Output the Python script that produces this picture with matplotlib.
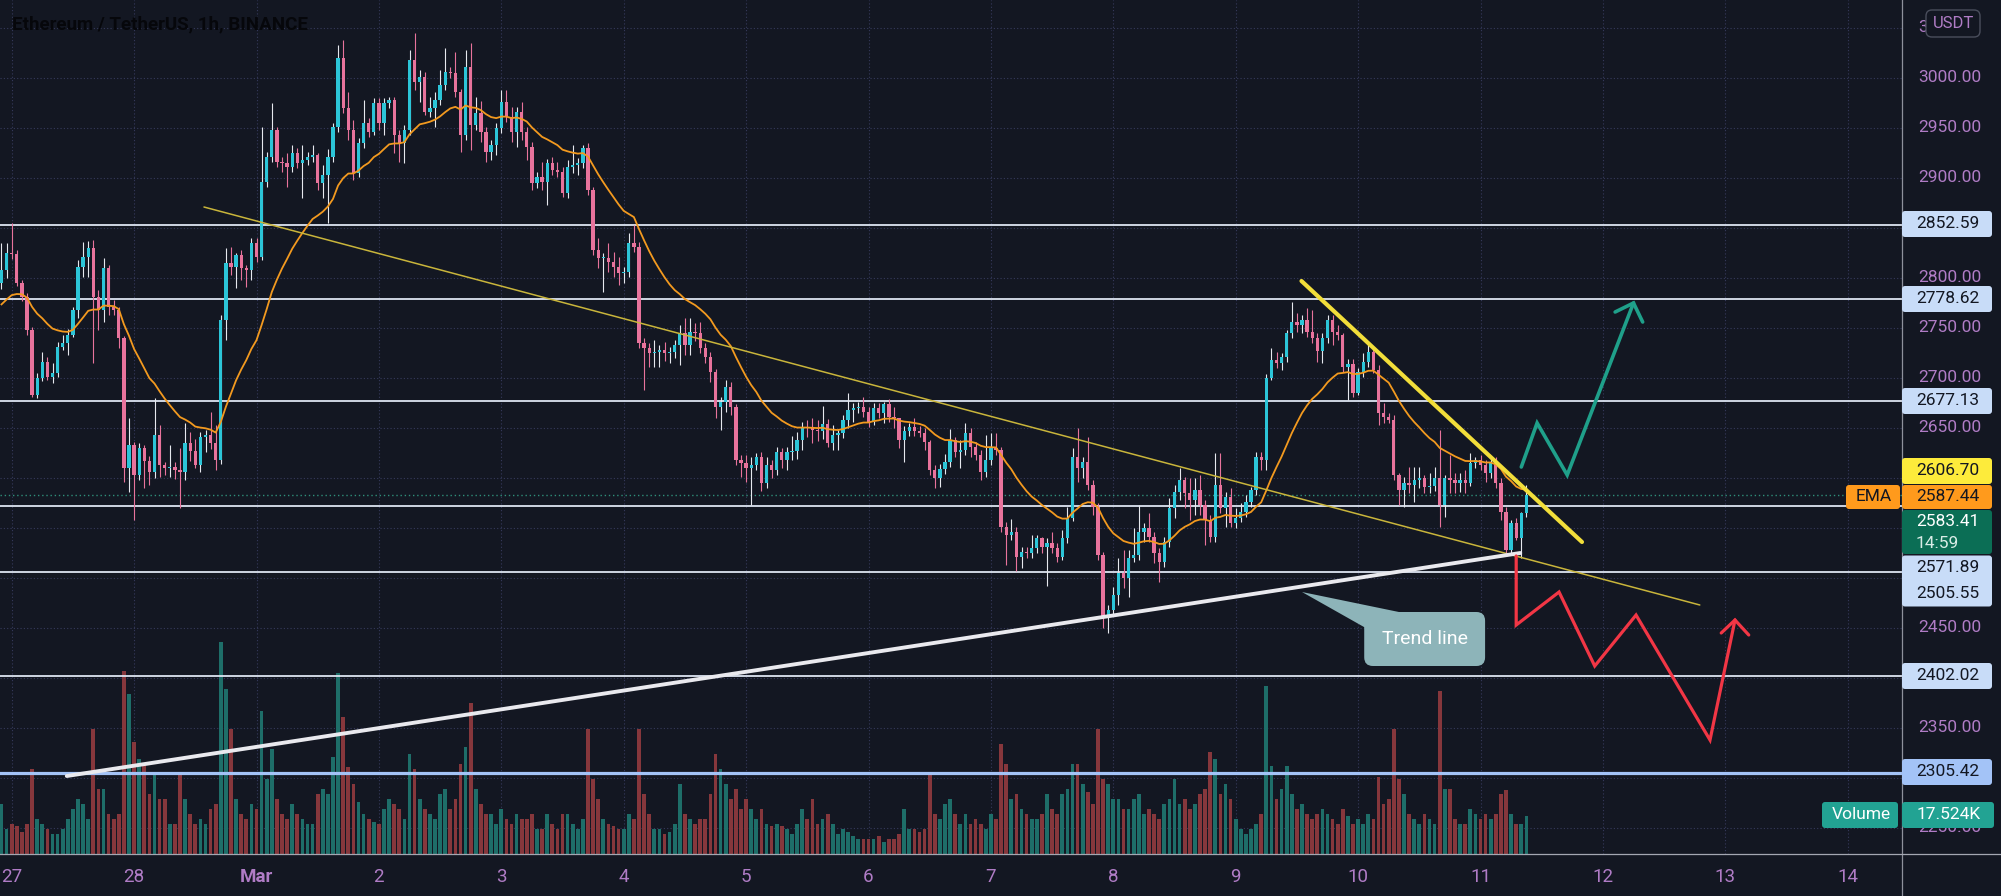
import numpy as np
import pandas as pd
import matplotlib
matplotlib.use("Agg")
import matplotlib.pyplot as plt
import matplotlib.transforms as mtransforms
from matplotlib.patches import FancyBboxPatch, Polygon
from matplotlib.lines import Line2D

plt.rcParams['font.family'] = ['Roboto', 'DejaVu Sans']

# --- данные: ETH/USDT, 1h, с 26 фев 22:00 до 11 мар 09:00 (час 0 = 27 фев 00:00) ---
first_open = 2795
closes = [
    2808, 2825,
    # 27
    2824, 2795, 2781, 2748, 2683, 2700, 2716, 2701, 2705, 2731, 2735, 2743,
    2768, 2811, 2821, 2830, 2781, 2768, 2810, 2771, 2768, 2740, 2610, 2633,
    # 28
    2603, 2630, 2617, 2606, 2643, 2613, 2610, 2611, 2608, 2606, 2635, 2627,
    2613, 2641, 2643, 2635, 2618, 2758, 2815, 2811, 2823, 2810, 2808, 2835,
    # Mar 1
    2821, 2896, 2921, 2948, 2916, 2915, 2911, 2925, 2915, 2918, 2921, 2923,
    2895, 2903, 2921, 2951, 3020, 2970, 2948, 2905, 2935, 2955, 2946, 2975,
    # 2
    2955, 2975, 2978, 2943, 2935, 2948, 3018, 2996, 3001, 2966, 2970, 2978,
    2993, 3006, 3005, 2986, 2943, 3011, 2953, 2965, 2946, 2926, 2933, 2950,
    # 3
    2976, 2961, 2946, 2966, 2946, 2931, 2895, 2901, 2896, 2915, 2908, 2906,
    2885, 2911, 2913, 2915, 2930, 2888, 2828, 2820, 2820, 2816, 2811, 2805,
    # 4
    2806, 2835, 2831, 2735, 2730, 2725, 2726, 2728, 2725, 2726, 2733, 2745,
    2733, 2746, 2745, 2730, 2721, 2706, 2671, 2676, 2691, 2671, 2618, 2615,
    # 5
    2610, 2613, 2621, 2595, 2613, 2608, 2626, 2618, 2626, 2627, 2638, 2651,
    2650, 2648, 2647, 2654, 2635, 2643, 2645, 2658, 2668, 2670, 2671, 2666,
    # 6
    2656, 2670, 2665, 2674, 2661, 2660, 2638, 2647, 2651, 2647, 2645, 2636,
    2608, 2600, 2609, 2616, 2638, 2626, 2628, 2645, 2631, 2623, 2606, 2618,
    # 7
    2630, 2628, 2551, 2543, 2546, 2521, 2526, 2525, 2530, 2540, 2531, 2535,
    2530, 2521, 2540, 2560, 2621, 2610, 2616, 2593, 2571, 2523, 2461, 2468,
    # 8
    2483, 2505, 2500, 2520, 2523, 2546, 2550, 2541, 2525, 2516, 2536, 2570,
    2586, 2598, 2585, 2578, 2588, 2573, 2558, 2541, 2593, 2570, 2581, 2555,
    # 9
    2560, 2566, 2576, 2588, 2621, 2618, 2700, 2718, 2715, 2721, 2745, 2756,
    2753, 2758, 2746, 2740, 2727, 2740, 2758, 2746, 2743, 2711, 2714, 2685,
    # 10
    2706, 2716, 2726, 2708, 2665, 2661, 2658, 2603, 2588, 2595, 2593, 2598,
    2600, 2591, 2592, 2600, 2573, 2600, 2598, 2595, 2598, 2595, 2615, 2618,
    # 11
    2613, 2605, 2616, 2595, 2566, 2528, 2555, 2540, 2565, 2583.41,
]
# длина верхней / нижней тени (USDT)
wick_up = [
    27, 10,
    30, 4, 3, 4, 3, 5, 10, 5, 10, 5, 8, 6, 3, 7, 15, 7, 8, 7, 10, 3, 7, 3, 2, 27,
    3, 5, 3, 5, 37, 10, 3, 22, 5, 22, 20, 11, 12, 5, 5, 23, 18, 5, 15, 16, 2, 5, 3, 5,
    5, 55, 5, 27, 3, 5, 10, 8, 5, 15, 5, 10, 2, 10, 8, 4, 13, 18, 16, 10, 5, 23, 5, 5,
    5, 5, 3, 3, 5, 5, 10, 27, 7, 5, 11, 8, 15, 24, 5, 21, 3, 17, 24, 16, 12, 5, 5, 5,
    12, 12, 10, 5, 10, 5, 5, 5, 15, 4, 6, 8, 5, 7, 20, 5, 3, 5, 3, 12, 5, 15, 10, 10,
    5, 10, 18, 5, 5, 5, 12, 5, 8, 5, 5, 8, 15, 14, 9, 11, 5, 5, 3, 5, 7, 5, 3, 5,
    8, 8, 4, 5, 8, 5, 5, 4, 5, 15, 8, 5, 7, 10, 10, 18, 5, 10, 3, 5, 17, 5, 5, 10,
    5, 5, 5, 2, 5, 10, 0, 5, 4, 9, 5, 5, 2, 5, 5, 8, 11, 3, 10, 10, 5, 5, 5, 25,
    15, 15, 3, 5, 13, 5, 5, 5, 13, 3, 1, 5, 11, 5, 8, 11, 9, 29, 5, 25, 5, 4, 3, 5,
    8, 15, 23, 8, 27, 27, 5, 15, 5, 5, 5, 10, 7, 12, 3, 15, 12, 15, 5, 5, 32, 32, 5, 9,
    10, 9, 7, 3, 5, 5, 4, 12, 8, 4, 3, 20, 9, 5, 12, 22, 5, 5, 5, 5, 7, 2, 5, 5,
    4, 9, 9, 4, 5, 10, 4, 5, 2, 6, 16, 13, 11, 3, 13, 11, 48, 3, 23, 7, 7, 10, 10, 3,
    5, 5, 5, 5, 5, 5, 3, 5, 1, 10,
]
wick_dn = [
    6, 8,
    5, 3, 4, 5, 2, 3, 3, 3, 6, 4, 3, 12, 2, 8, 10, 20, 66, 20, 12, 8, 5, 10, 14, 24,
    45, 5, 27, 13, 6, 12, 7, 9, 9, 36, 8, 10, 3, 7, 15, 6, 10, 4, 20, 8, 21, 12, 17, 10,
    5, 3, 5, 5, 5, 9, 20, 5, 5, 35, 5, 5, 7, 15, 48, 5, 5, 5, 10, 7, 4, 5, 5, 3,
    7, 12, 5, 18, 19, 20, 5, 8, 20, 3, 5, 19, 5, 5, 5, 5, 17, 5, 25, 5, 10, 10, 8, 10,
    5, 5, 10, 15, 8, 13, 7, 5, 8, 23, 5, 5, 4, 5, 6, 10, 5, 5, 5, 10, 34, 10, 10, 12,
    10, 5, 5, 5, 42, 14, 14, 15, 8, 10, 6, 20, 10, 10, 8, 5, 6, 10, 11, 23, 10, 8, 5, 14,
    14, 37, 5, 8, 5, 8, 5, 8, 10, 8, 8, 10, 9, 13, 10, 8, 4, 7, 15, 5, 8, 12, 5, 5,
    5, 3, 5, 10, 5, 10, 8, 22, 5, 5, 4, 8, 5, 10, 9, 5, 5, 5, 16, 5, 10, 5, 8, 5,
    5, 5, 5, 30, 5, 14, 11, 5, 5, 5, 6, 39, 5, 5, 3, 5, 3, 14, 10, 5, 8, 5, 11, 16,
    5, 10, 10, 19, 4, 5, 10, 5, 10, 20, 5, 5, 10, 8, 15, 20, 15, 10, 25, 5, 5, 5, 19, 4,
    5, 4, 5, 5, 5, 10, 10, 2, 5, 7, 5, 5, 7, 8, 5, 5, 11, 12, 5, 13, 5, 5, 33, 4,
    2, 5, 5, 3, 12, 6, 3, 5, 15, 17, 8, 17, 8, 6, 6, 5, 22, 12, 13, 10, 9, 10, 3, 5,
    5, 9, 5, 5, 8, 3, 3, 2, 20, 4,
]
volume = [
    50, 25,
    30, 28, 22, 30, 85, 35, 30, 25, 20, 20, 25, 35, 45, 55, 50, 35, 125, 65, 65, 40, 35, 40, 183, 160,
    112, 95, 90, 60, 80, 55, 55, 30, 30, 80, 55, 40, 30, 35, 30, 45, 50, 212, 165, 125, 55, 40, 35, 50,
    45, 143, 75, 105, 55, 40, 35, 50, 40, 35, 30, 30, 60, 65, 60, 97, 181, 137, 87, 70, 52, 40, 35, 32,
    30, 45, 55, 50, 45, 35, 100, 85, 55, 45, 40, 35, 60, 65, 45, 55, 90, 107, 151, 65, 50, 40, 40, 30,
    45, 35, 30, 40, 35, 35, 40, 25, 25, 40, 30, 25, 40, 40, 30, 25, 35, 125, 75, 55, 35, 30, 28, 25,
    25, 40, 35, 125, 60, 40, 25, 25, 20, 22, 30, 70, 40, 35, 30, 35, 35, 60, 100, 85, 70, 55, 65, 45,
    55, 45, 35, 45, 30, 28, 30, 28, 25, 20, 30, 45, 35, 55, 30, 35, 40, 30, 20, 25, 22, 18, 15, 15,
    15, 15, 18, 12, 15, 15, 20, 45, 25, 25, 22, 25, 80, 40, 35, 50, 55, 40, 30, 40, 30, 35, 30, 25,
    40, 35, 110, 90, 55, 60, 45, 40, 35, 35, 40, 60, 45, 40, 60, 65, 90, 90, 70, 62, 50, 125, 75, 70,
    55, 55, 45, 45, 55, 60, 40, 45, 40, 35, 50, 55, 75, 50, 55, 45, 50, 60, 65, 102, 95, 60, 70, 55,
    35, 25, 20, 25, 30, 40, 168, 88, 55, 65, 88, 60, 45, 50, 40, 35, 40, 45, 40, 35, 30, 45, 38, 30,
    35, 30, 40, 35, 77, 50, 55, 125, 75, 60, 40, 35, 30, 40, 35, 30, 163, 65, 65, 35, 30, 30, 45, 40,
    35, 40, 35, 40, 60, 64, 40, 30, 30, 38,
]
hours = np.arange(-2, 298)
ema_seed = 2770

day_labels = ['27', '28', 'Mar', '2', '3', '4', '5', '6', '7', '8', '9', '10', '11', '12', '13', '14']
price_ticks = [3000, 2950, 2900, 2800, 2750, 2700, 2650, 2450, 2350, 2250]
levels = [2852.59, 2778.62, 2677.13, 2571.89, 2505.55, 2402.02]
level_main = 2305.42
last_price = 2583.41

# рисованные линии: (час, цена)
thin_trend = [(37.7, 2871), (331.0, 2473)]
yellow_trend = [(252.9, 2797), (307.9, 2536)]
white_trend = [(10.8, 2302), (295.8, 2525)]
green_path = [(296.0, 2611), (299.1, 2655), (305.0, 2603), (318.0, 2775)]
green_head = [(314.4, 2766), (318.0, 2775), (319.8, 2756)]
red_path = [(295.0, 2522), (295.0, 2453), (303.4, 2486), (310.4, 2412), (318.5, 2463), (333.0, 2338), (337.9, 2458)]
red_head = [(335.2, 2445), (337.9, 2458), (340.6, 2443)]

BG = '#131722'
UP = '#2cc5d8'
DN = '#e8739c'
PURPLE = '#b07cc6'

c = np.array(closes, dtype=float)
o = np.array([first_open] + closes[:-1], dtype=float)
hi = np.maximum(o, c) + np.array(wick_up)
lo = np.minimum(o, c) - np.array(wick_dn)
is_up = c >= o
ema = pd.Series([ema_seed] + closes).ewm(span=20, adjust=False).mean().values[1:]

W, H = 2001, 896
PW, PH = 1902, 854
hour_px = 122.4 / 24
x0_px = 11.7
y_top, y_bot = 3078, 3078 - PH

fig = plt.figure(figsize=(W / 100, H / 100), dpi=100, facecolor=BG)
ax = fig.add_axes([0, (H - PH) / H, PW / W, PH / H])
ax.set_facecolor(BG)
ax.set_xlim(-x0_px / hour_px, (PW - x0_px) / hour_px)
ax.set_ylim(y_bot, y_top)
for s in ax.spines.values():
    s.set_visible(False)
ax.set_xticks([])
ax.set_yticks([])

# сетка
grid_kw = dict(color='#363a5c', lw=0.8, ls=(0, (1, 2)), zorder=0.5)
for d in range(len(day_labels)):
    ax.axvline(d * 24, **grid_kw)
for p in range(2250, 3100, 50):
    ax.axhline(p, **grid_kw)

# объём
vol_col = np.where(is_up, '#1e6e69', '#86373c')
ax.bar(hours, volume, bottom=y_bot, width=0.72, color=vol_col, lw=0, zorder=1)

# уровни
for lv in levels:
    ax.axhline(lv, color='#dde5f2', lw=1.3, zorder=2)
ax.axhline(level_main, color='#a3c3f7', lw=2.3, zorder=2)
ax.axhline(last_price, color='#2f8f7a', lw=1.0, ls=(0, (1, 2)), zorder=2)

# свечи
wick_col = np.where(is_up, '#e6e8ee', DN)
ax.vlines(hours, lo, hi, colors=wick_col, lw=0.8, zorder=3)
body = np.maximum(np.abs(c - o), 1.0)
ax.bar(hours, body, bottom=np.minimum(o, c), width=0.66,
       color=np.where(is_up, UP, DN), lw=0, zorder=4)

ax.plot(hours, ema, color='#f39a1f', lw=1.3, zorder=5)


def draw(path, **kw):
    xs, ys = zip(*path)
    ax.plot(xs, ys, solid_capstyle='round', solid_joinstyle='miter', **kw)


draw(thin_trend, color='#c9b53b', lw=1.1, zorder=6)
draw(white_trend, color='#e9e9ee', lw=2.8, zorder=6)
draw(yellow_trend, color='#f2de3a', lw=3.0, zorder=6)
draw(green_path, color='#1fa08a', lw=2.6, zorder=7)
draw(green_head, color='#1fa08a', lw=2.6, zorder=7)
draw(red_path, color='#f23645', lw=2.3, zorder=7)
draw(red_head, color='#f23645', lw=2.3, zorder=7)

# выноска "Trend line"
call_fc = '#8db4b9'
ax.add_patch(Polygon([(253.0, 2486), (265.5, 2450), (272.0, 2466)], closed=True,
                     fc=call_fc, ec='none', zorder=8))
ax.add_patch(FancyBboxPatch((265.2, 2412), 23.7, 54,
                            boxstyle='round,pad=0,rounding_size=1.7',
                            mutation_aspect=hour_px, fc=call_fc, ec='none', zorder=8))
ax.text(277.05, 2439, 'Trend line', color='white', fontsize=14,
        ha='center', va='center', zorder=9)

# заголовок
ax.text(12 / PW, 1 - 24 / PH, 'Ethereum / TetherUS, 1h, BINANCE', transform=ax.transAxes,
        color='#06070b', fontsize=13.5, fontweight='bold', ha='left', va='center', zorder=9)

# даты
tr = mtransforms.blended_transform_factory(ax.transData, ax.transAxes)
for d, lab in enumerate(day_labels):
    ax.text(d * 24, -23 / PH, lab, transform=tr, color=PURPLE, fontsize=13.5,
            fontweight='bold' if lab == 'Mar' else 'normal',
            ha='center', va='center', clip_on=False)

# правая шкала
rax = fig.add_axes([PW / W, (H - PH) / H, (W - PW) / W, PH / H], zorder=3)
rax.set_facecolor(BG)
rax.set_xlim(0, W - PW)
rax.set_ylim(y_bot, y_top)
rax.axis('off')

for p in price_ticks:
    rax.text(48, p, f'{p:.2f}', color=PURPLE, fontsize=12.5, ha='center', va='center', zorder=1)
# верхняя метка 3050.00 почти целиком закрыта плашкой USDT — видна только первая цифра
rax.text(16, 3050, '3', color=PURPLE, fontsize=12.5, ha='left', va='center', zorder=1)


def tag(y, text, fc, tc='#131722', x0=0, x1=90, h=26, ty=None, size=12.5):
    rax.add_patch(FancyBboxPatch((x0, y - h / 2), x1 - x0, h, boxstyle='round,pad=0,rounding_size=3',
                                 fc=fc, ec='none', clip_on=False, zorder=3))
    if text is not None:
        rax.text((x0 + x1) / 2 + 1, y if ty is None else ty, text, color=tc, fontsize=size,
                 ha='center', va='center', zorder=4, clip_on=False)


LB = '#c8dcf8'
tag(3078 - 224, '2852.59', LB)
tag(3078 - 299, '2778.62', LB)
tag(3078 - 401, '2677.13', LB)
tag(3078 - 471, '2606.70', '#fdeb3b')
tag(3078 - 497, '2587.44', '#ff9a1c', h=24)
tag(3078 - 497, 'EMA', '#ff9a1c', x0=-56, x1=-2, h=24)
tag(3078 - 532, None, '#0b6e55', h=44)
rax.text(46, 3078 - 522, '2583.41', color='white', fontsize=12.5, ha='center', va='center', zorder=4)
rax.text(35, 3078 - 544, '14:59', color='#d8ece6', fontsize=12.5, ha='center', va='center', zorder=4)
tag(3078 - 581, None, LB, h=51)
rax.text(46, 3078 - 568, '2571.89', color='#131722', fontsize=12.5, ha='center', va='center', zorder=4)
rax.text(46, 3078 - 594, '2505.55', color='#131722', fontsize=12.5, ha='center', va='center', zorder=4)
tag(3078 - 676, '2402.02', LB)
tag(3078 - 772, '2305.42', '#a3c3f7')
tag(3078 - 815, '17.524K', '#22a393', tc='white', x1=92)
tag(3078 - 815, 'Volume', '#22a393', tc='white', x0=-80, x1=-4)

# USDT
rax.add_patch(FancyBboxPatch((24, 3078 - 37), 54, 27, boxstyle='round,pad=0,rounding_size=6',
                             fc=BG, ec='#4a4e5c', lw=1.0, zorder=3))
rax.text(51, 3078 - 23.5, 'USDT', color=PURPLE, fontsize=12, ha='center', va='center', zorder=4)

# рамки шкал
fig.add_artist(Line2D([PW / W, PW / W], [0, 1], transform=fig.transFigure, color='#8e919c', lw=0.9))
fig.add_artist(Line2D([0, 1], [(H - PH) / H] * 2, transform=fig.transFigure, color='#a4a7b2', lw=0.9))

fig.savefig('out.png', dpi=100, facecolor=BG)
